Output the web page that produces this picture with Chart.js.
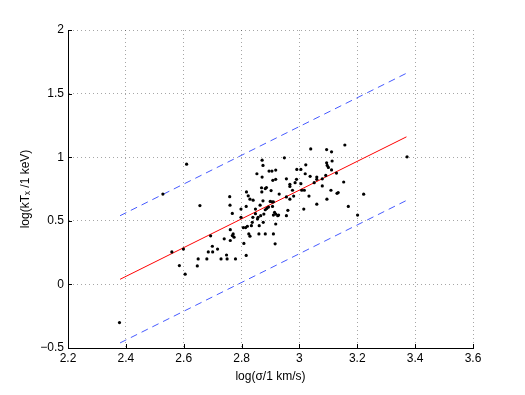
<!DOCTYPE html>
<html>
<head>
<meta charset="utf-8">
<script src="https://cdn.jsdelivr.net/npm/chart.js@4/dist/chart.umd.min.js"></script>
<style>
  html, body { margin: 0; padding: 0; background: #fff; }
</style>
</head>
<body>
<canvas id="chart" width="525" height="395"></canvas>
<script>
// log(sigma / 1 km/s) and log(kT_X / 1 keV) for each cluster
const logSigma = [
  2.378, 2.528, 2.61, 2.656, 2.559, 2.599, 2.585, 2.605, 2.647, 2.65,
  2.693, 2.68, 2.685, 2.699, 2.70, 2.717, 2.729, 2.74, 2.748, 2.75,
  2.759, 2.76, 2.761, 2.761, 2.768, 2.768, 2.771, 2.774, 2.779, 2.798,
  2.798, 2.806, 2.808, 2.814, 2.816, 2.816, 2.817, 2.823, 2.82, 2.825,
  2.829, 2.829, 2.834, 2.837, 2.839, 2.84, 2.848, 2.848, 2.853, 2.855,
  2.857, 2.86, 2.861, 2.864, 2.866, 2.869, 2.87, 2.871, 2.874, 2.871,
  2.874, 2.875, 2.877,
  2.882, 2.886, 2.902, 2.908, 2.918, 2.899, 2.905, 2.91, 2.907, 2.914,
  2.918, 2.928, 2.91, 2.882, 2.887, 2.893, 2.882, 2.91, 2.918, 2.916,
  2.895, 2.905, 2.918, 2.948, 2.93, 2.925,
  3.039, 3.094, 3.111, 3.157, 2.991, 3.005, 3.022, 3.02, 3.037, 3.06,
  3.06, 3.079, 3.091, 3.094, 3.096, 3.1, 3.113, 3.111, 3.128, 3.153,
  2.955, 2.967, 2.967, 2.976, 2.985, 2.99, 3.005, 3.008, 3.017, 3.051,
  3.079, 3.109, 3.134, 3.13, 2.955, 2.967, 2.98, 3.033, 3.095, 3.06,
  3.015, 2.96, 2.955, 3.169, 3.222, 3.201, 3.372
];
const logTemp = [
  -0.30, 0.71, 0.945, 0.62, 0.255, 0.278, 0.148, 0.08, 0.145, 0.20,
  0.382, 0.20, 0.255, 0.30, 0.255, 0.278, 0.20, 0.358, 0.231, 0.20,
  0.69, 0.623, 0.43, 0.345, 0.558, 0.384, 0.397, 0.371, 0.20, 0.592,
  0.527, 0.447, 0.322, 0.447, 0.613, 0.228, 0.727, 0.696, 0.457, 0.397,
  0.379, 0.67, 0.462, 0.488, 0.527, 0.662, 0.556, 0.592, 0.87, 0.514,
  0.527, 0.397, 0.462, 0.623, 0.54, 0.76, 0.727, 0.977, 0.935, 0.844,
  0.657, 0.488, 0.553,
  0.753, 0.761, 0.738, 0.818, 0.826, 0.652, 0.649, 0.649, 0.613, 0.566,
  0.553, 0.545, 0.545, 0.587, 0.597, 0.608, 0.397, 0.397, 0.475, 0.319,
  0.891, 0.891, 0.899, 0.995, 0.71, 0.54,
  1.065, 1.06, 1.042, 1.096, 0.904, 0.904, 0.94, 0.87, 0.85, 0.844,
  0.826, 0.83, 0.857, 0.956, 0.935, 0.92, 0.97, 0.90, 0.875, 0.805,
  0.83, 0.787, 0.77, 0.74, 0.80, 0.826, 0.792, 0.74, 0.74, 0.80,
  0.774, 0.74, 0.722, 0.716, 0.688, 0.67, 0.694, 0.694, 0.67, 0.631,
  0.592, 0.582, 0.54, 0.613, 0.709, 0.545, 1.003
];

// best fit line and the +/- 0.5 dex envelope
const fitX = [2.38, 3.37];
const fitY = [0.04, 1.16];
const upperY = [0.54, 1.66];
const lowerY = [-0.46, 0.66];

const xTicks = [2.2, 2.4, 2.6, 2.8, 3, 3.2, 3.4, 3.6];
const xTickLabels = ["2.2", "2.4", "2.6", "2.8", "3", "3.2", "3.4", "3.6"];
const yTicks = [-0.5, 0, 0.5, 1, 1.5, 2];
const yTickLabels = ["\u22120.5", "0", "0.5", "1", "1.5", "2"];

const toXY = (xs, ys) => xs.map((x, i) => ({ x: x, y: ys[i] }));

const FONT = "'Liberation Sans', Arial, Helvetica, sans-serif";
Chart.defaults.font.family = FONT;
Chart.defaults.font.size = 12;
Chart.defaults.color = "#000";

// matlab style: ticks point inward from the left and bottom axes
const inwardTicks = {
  id: "inwardTicks",
  afterDraw(chart) {
    const { ctx, chartArea, scales } = chart;
    ctx.save();
    ctx.strokeStyle = "#000";
    ctx.lineWidth = 1;
    ctx.beginPath();
    xTicks.forEach((v) => {
      const px = Math.round(scales.x.getPixelForValue(v)) + 0.5;
      ctx.moveTo(px, chartArea.bottom);
      ctx.lineTo(px, chartArea.bottom - 4);
    });
    yTicks.forEach((v) => {
      const py = Math.round(scales.y.getPixelForValue(v)) + 0.5;
      ctx.moveTo(chartArea.left, py);
      ctx.lineTo(chartArea.left + 4, py);
    });
    ctx.stroke();
    ctx.restore();
  },
};

const gridOpts = {
  color: "rgba(0,0,0,0.35)",
  lineWidth: 1,
  drawTicks: false,
};

new Chart(document.getElementById("chart"), {
  type: "scatter",
  data: {
    datasets: [
      {
        data: toXY(logSigma, logTemp),
        backgroundColor: "#000",
        borderColor: "#000",
        pointRadius: 1.6,
        pointBorderWidth: 0,
      },
      {
        type: "line",
        data: toXY(fitX, fitY),
        borderColor: "#ff0000",
        borderWidth: 1,
        pointRadius: 0,
        fill: false,
      },
      {
        type: "line",
        data: toXY(fitX, upperY),
        borderColor: "rgb(70,90,255)",
        borderWidth: 1,
        borderDash: [7, 5],
        pointRadius: 0,
        fill: false,
      },
      {
        type: "line",
        data: toXY(fitX, lowerY),
        borderColor: "rgb(70,90,255)",
        borderWidth: 1,
        borderDash: [7, 5],
        pointRadius: 0,
        fill: false,
      },
    ],
  },
  options: {
    responsive: false,
    animation: false,
    events: [],
    layout: { padding: { top: 30, right: 52, left: 18, bottom: 11 } },
    plugins: { legend: { display: false }, tooltip: { enabled: false } },
    scales: {
      x: {
        type: "linear",
        min: 2.2,
        max: 3.6,
        afterBuildTicks: (s) => { s.ticks = xTicks.map((v) => ({ value: v })); },
        afterFit: (s) => { s.height = 36; },
        ticks: {
          padding: 3,
          maxRotation: 0,
          autoSkip: false,
          callback: (v, i) => xTickLabels[i],
        },
        grid: gridOpts,
        border: { display: true, color: "#000", width: 1, dash: [1, 3] },
        title: {
          display: true,
          text: "log(\u03c3/1 km/s)",
          padding: { top: 4, bottom: 0 },
        },
      },
      y: {
        type: "linear",
        min: -0.5,
        max: 2,
        afterBuildTicks: (s) => { s.ticks = yTicks.map((v) => ({ value: v })); },
        afterFit: (s) => { s.width = 50; },
        ticks: {
          padding: 4,
          autoSkip: false,
          callback: (v, i) => yTickLabels[i],
        },
        grid: gridOpts,
        border: { display: true, color: "#000", width: 1, dash: [1, 3] },
        title: {
          display: true,
          text: "log(kT\u2093 /1 keV)",
          padding: { top: 0, bottom: 0 },
        },
      },
    },
  },
  plugins: [inwardTicks],
});
</script>
</body>
</html>
